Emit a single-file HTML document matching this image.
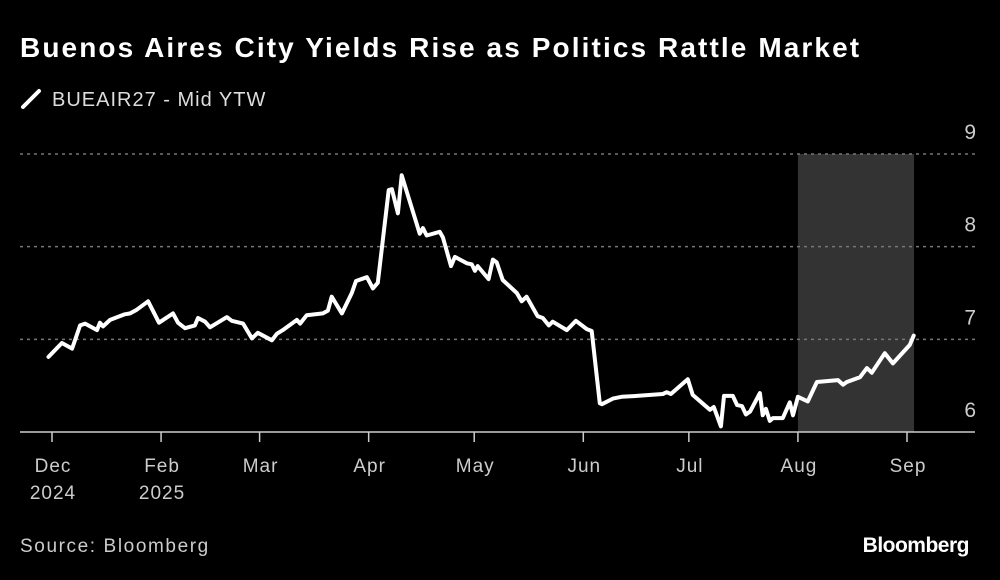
<!DOCTYPE html>
<html><head><meta charset="utf-8"><style>
html,body{margin:0;padding:0;background:#000;}
body{width:1000px;height:580px;overflow:hidden;font-family:"Liberation Sans",sans-serif;color:#fff;position:relative;}
.t{position:absolute;white-space:nowrap;}
</style></head><body>
<div class="t" style="left:20px;top:32px;font-size:28px;font-weight:bold;letter-spacing:2.1px;">Buenos Aires City Yields Rise as Politics Rattle Market</div>
<div class="t" style="left:20px;top:88px;font-size:20px;color:#ddd;letter-spacing:1px;">
<svg width="22" height="22" style="vertical-align:-4px;margin-right:10px"><line x1="3" y1="19" x2="19" y2="3" stroke="#fff" stroke-width="4" stroke-linecap="round"/></svg>BUEAIR27 - Mid YTW</div>
<svg id="chart" width="1000" height="580" style="position:absolute;left:0;top:0"></svg>
<div class="t" style="left:20px;top:536px;font-size:19px;color:#ccc;letter-spacing:1.6px;">Source: Bloomberg</div>
<div class="t" style="right:31px;top:534px;font-size:21px;font-weight:bold;letter-spacing:-0.5px;">Bloomberg</div>
<script>
// day offsets from 2025-01-01
const days=[-1,2.8,5.7,8,9.4,12.8,13.6,14.5,16.5,20.7,22.2,24.1,27.3,30.4,34.4,35.8,37.8,40.6,41.5,43.5,44.9,49.7,51.1,54.3,56.8,58.5,62.5,63.9,65.6,69.6,70.5,72.4,77,78.4,79.5,82.4,85.2,86.4,89.5,91.2,92.6,95.7,96.6,98.3,99.4,104.5,105.4,106.5,110.2,111.1,113.4,114.5,117.9,119.3,120.2,121,124.1,125.3,126.4,128.1,132.1,133.5,134.9,138,139.5,141.2,142.3,146.3,148.9,152,153.4,155.7,156.3,159.4,161.9,166.2,173.6,174.7,175.9,180.7,182.1,187,188.1,190.1,191,193.5,194.7,196.1,197.2,198.4,201.2,202,202.9,204,204.9,207.7,209.7,210.6,212,214.8,217.4,223.4,224.8,225.9,229.6,231.6,233,236.7,239,243.8,244.9];
const yields=[6.81,6.96,6.90,7.15,7.17,7.10,7.18,7.14,7.21,7.27,7.28,7.32,7.41,7.18,7.28,7.18,7.12,7.15,7.23,7.19,7.13,7.24,7.20,7.17,7.01,7.07,6.99,7.06,7.10,7.21,7.17,7.26,7.28,7.31,7.46,7.28,7.50,7.63,7.67,7.55,7.61,8.61,8.62,8.36,8.77,8.14,8.20,8.12,8.16,8.10,7.79,7.89,7.82,7.81,7.74,7.79,7.65,7.86,7.83,7.64,7.50,7.41,7.46,7.25,7.23,7.15,7.19,7.10,7.20,7.11,7.09,6.31,6.30,6.36,6.38,6.39,6.41,6.43,6.41,6.57,6.40,6.24,6.27,6.06,6.39,6.39,6.29,6.28,6.19,6.22,6.42,6.18,6.25,6.12,6.15,6.15,6.32,6.18,6.38,6.33,6.54,6.56,6.51,6.54,6.59,6.69,6.64,6.85,6.74,6.94,7.04];
const tickDays=[0,31,59,90,120,151,181,212,243];
const tickLabels=[["Dec","2024"],["Feb","2025"],["Mar"],["Apr"],["May"],["Jun"],["Jul"],["Aug"],["Sep"]];
const yTicks=[6,7,8,9];
const shadeRange=[212,245];
const svg=document.getElementById('chart');const NS='http://www.w3.org/2000/svg';
const X0=52,X1=907,Y6=432,Y9=154;
const xs=d=>X0+(d-0)*(X1-X0)/243;
const ys=v=>Y6-(v-6)*(Y6-Y9)/3;
function mk(tag,attrs){const e=document.createElementNS(NS,tag);for(const k in attrs)e.setAttribute(k,attrs[k]);svg.appendChild(e);return e;}
const sh=mk('rect',{x:xs(shadeRange[0]),y:ys(9),width:xs(shadeRange[1])-xs(shadeRange[0]),height:ys(6)-ys(9),fill:'#333'});


yTicks.forEach(v=>{
  if(v>6){const g=mk('line',{x1:20,x2:975,y1:ys(v),y2:ys(v),stroke:'#777','stroke-width':1.5,'stroke-dasharray':'3,4'});
  
  }
  const t=mk('text',{x:976,y:ys(v)-15,'text-anchor':'end',fill:'#ccc','font-size':21,'font-family':'Liberation Sans, sans-serif'});
  t.textContent=v;
  
  
});
const ax=mk('line',{x1:20,x2:975,y1:Y6,y2:Y6,stroke:'#ccc','stroke-width':1.5});


tickDays.forEach((d,i)=>{
  const l=mk('line',{x1:xs(d),x2:xs(d),y1:Y6,y2:Y6+10,stroke:'#ccc','stroke-width':1.5});
  
  
  tickLabels[i].forEach((s,j)=>{
    const t=mk('text',{x:xs(d)+1,y:472+j*27,'text-anchor':'middle',fill:'#ccc','font-size':19,'letter-spacing':1,'font-family':'Liberation Sans, sans-serif'});
    t.textContent=s;
    
    
  });
});
let p='';days.forEach((d,i)=>{p+=(i?'L':'M')+xs(d).toFixed(1)+' '+ys(yields[i]).toFixed(1);});
const line=mk('path',{d:p,fill:'none',stroke:'#fff','stroke-width':4,'stroke-linejoin':'round','stroke-linecap':'round'});


</script>
</body></html>
